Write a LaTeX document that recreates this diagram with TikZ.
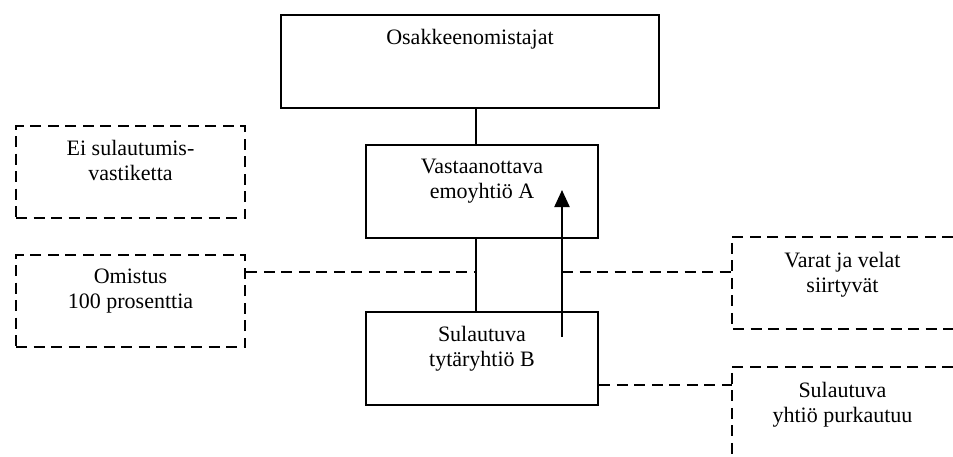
\documentclass[tikz,border=0pt]{standalone}
\usepackage{fontspec}
\setmainfont{Liberation Serif}
\usepackage{tikz}
\usetikzlibrary{arrows.meta,shapes}

\newcommand{\boxfont}{\fontsize{22bp}{25bp}\selectfont}

\tikzset{
  boxtext/.style={label={[anchor=north,yshift=-12bp,inner sep=3bp,align=center,font=\boxfont]north:#1}},
  solidbox/.style={draw,line width=2.5bp,minimum width=232bp,minimum height=93bp,inner sep=0pt},
  dashbox/.style={draw,line width=2.5bp,dash pattern=on 11bp off 6.5bp,minimum width=229bp,minimum height=92bp,inner sep=0pt},
  openbox/.style={minimum width=221bp,minimum height=92bp,inner sep=0pt},
  link/.style={line width=2.2bp},
  dashlink/.style={line width=2.5bp,dash pattern=on 11bp off 6.5bp},
  flow/.style={line width=2.2bp,-{Triangle[length=17bp,width=15bp]}}
}

\begin{document}
\begin{tikzpicture}

\useasboundingbox (0bp,0bp) rectangle (953bp,-457bp);

\node (owners) at (470bp,-61.5bp)[solidbox,minimum width=378bp,boxtext=Osakkeenomistajat] {};
\node (parent) at (482bp,-191.5bp)[solidbox,boxtext={Vastaanottava\\emoyhtiö A}] {};
\node (sub) at (482bp,-358.5bp)[solidbox,boxtext={Sulautuva\\tytäryhtiö B}] {};
\node (noconsid) at (130.5bp,-172bp)[dashbox,boxtext={Ei sulautumis-\\vastiketta}] {};
\node (ownership) at (130.5bp,-301bp)[dashbox,boxtext={Omistus\\100 prosenttia}] {};
\node (assets) at (842.5bp,-283bp)[openbox,boxtext={Varat ja velat\\siirtyvät}] {};
\node (dissolve) at (842.5bp,-412bp)[openbox,minimum height=90bp,boxtext={Sulautuva\\yhtiö purkautuu}] {};

% open outlines on the right
\draw [dashlink] (assets.north east) -- (assets.north west) -- (assets.south west) -- (assets.south east);
\draw [dashlink] (dissolve.north east) -- (dissolve.north west) -- (dissolve.south west);

% ownership chain
\coordinate (trunk) at ([xshift=-6bp]parent.south);
\draw [link] ([xshift=-6bp]parent.north) -- ([xshift=-6bp]parent.north |- owners.south);
\draw [link] (trunk) -- (trunk |- sub.north);

% merger
\coordinate (lift) at ([xshift=80bp,yshift=-26bp]sub.north);
\draw [flow] (lift) -- (lift |- 0bp,-190bp);

\coordinate (owntap) at ([yshift=-18bp]ownership.north east);
\draw [dashlink] (owntap) -- (owntap -| trunk);
\draw [dashlink] (owntap -| lift) -- (owntap -| assets.west);
\coordinate (subtap) at ([yshift=-18bp]dissolve.north west);
\draw [dashlink] (subtap -| sub.east) -- (subtap);
\end{tikzpicture}
\end{document}
